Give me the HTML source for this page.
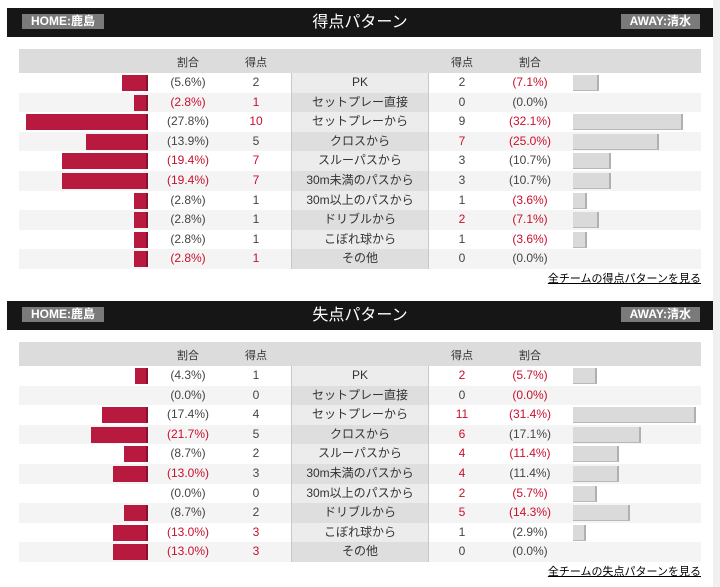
<!DOCTYPE html>
<html><head><meta charset="utf-8"><style>
body{margin:0;width:720px;height:587px;background:#fff;font-family:"Liberation Sans","Noto Sans CJK JP",sans-serif;position:relative;overflow:hidden}
.side{position:absolute;left:713px;top:0;width:7px;height:587px;background:#f0f0f0}
.hdr{position:absolute;left:7px;width:706px;height:29px;background:#161616}
.tag{position:absolute;top:6px;height:15px;background:#7a7a7a;color:#fff;font-weight:bold;font-size:12px;line-height:15px;padding:0 9px}
.ttl{position:absolute;left:0;right:0;top:0;line-height:29px;text-align:center;color:#fff;font-size:16px}
.tbl{position:absolute;left:19px;width:682px}
.th{height:24px;background:#dcdcdc;position:relative;font-size:11px;color:#333}
.th span,.row span{position:absolute;transform:translateX(-50%);white-space:nowrap}
.th span{top:5px}
.row{height:19.6px;position:relative;font-size:12px;color:#444}
.row span{top:2px}
.lab{position:absolute;left:272px;width:136px;height:100%;border-left:1px solid #c8c8c8;border-right:1px solid #c8c8c8;text-align:center;line-height:19.6px;color:#333}
.hb{position:absolute;top:2px;height:16px;background:#b8193f;border-right:2px solid #8a1030}
.ab{position:absolute;left:554px;top:2px;height:15px;background:#dadada;border-right:2px solid #b0b0b0;border-bottom:1px solid #b8b8b8}
.r{color:#c8102e}
.link{position:absolute;right:19px;font-size:11px;color:#000;text-decoration:underline}
</style></head><body>
<div class="side"></div>
<div id="root"></div>
<script>
const cats=["PK","セットプレー直接","セットプレーから","クロスから","スルーパスから","30m未満のパスから","30m以上のパスから","ドリブルから","こぼれ球から","その他"];
const homeFor=[2,1,10,5,7,7,1,1,1,1];
const homeForPct=["5.6","2.8","27.8","13.9","19.4","19.4","2.8","2.8","2.8","2.8"];
const homeForPctRed=[0,1,0,0,1,1,0,0,0,1];
const homeForValRed=[0,1,1,0,1,1,0,0,0,1];
const awayFor=[2,0,9,7,3,3,1,2,1,0];
const awayForPct=["7.1","0.0","32.1","25.0","10.7","10.7","3.6","7.1","3.6","0.0"];
const awayForPctRed=[1,0,1,1,0,0,1,1,1,0];
const awayForValRed=[0,0,0,1,0,0,0,1,0,0];
const homeAg=[1,0,4,5,2,3,0,2,3,3];
const homeAgPct=["4.3","0.0","17.4","21.7","8.7","13.0","0.0","8.7","13.0","13.0"];
const homeAgPctRed=[0,0,0,1,0,1,0,0,1,1];
const homeAgValRed=[0,0,0,0,0,0,0,0,1,1];
const awayAg=[2,0,11,6,4,4,2,5,1,0];
const awayAgPct=["5.7","0.0","31.4","17.1","11.4","11.4","5.7","14.3","2.9","0.0"];
const awayAgPctRed=[1,1,1,0,1,0,1,1,0,0];
const awayAgValRed=[1,0,1,1,1,1,1,1,0,0];
const root=document.getElementById('root');
function section(top,title,link,hv,hp,hpr,hvr,av,ap,apr,avr,scale,nm){
  const h=document.createElement('div');h.className='hdr';h.style.top=top+'px';
  
  
  h.innerHTML='<div class="ttl">'+title+'</div><div class="tag" style="left:15px">HOME:鹿島</div><div class="tag" style="right:13px">AWAY:清水</div>';
  root.appendChild(h);
  const t=document.createElement('div');t.className='tbl';t.style.top=(top+41)+'px';
  
  
  let s='<div class="th"><span style="left:169px">割合</span><span style="left:237px">得点</span><span style="left:443px">得点</span><span style="left:511px">割合</span></div>';
  cats.forEach((c,i)=>{
    const bg=i%2?'#f4f4f4':'#fff', lb=i%2?'#dedede':'#ececec';
    const hw=hv[i]*scale, aw=av[i]*scale;
    s+='<div class="row" style="background:'+bg+'">'+
      (hw?'<div class="hb" style="left:'+(127-hw)+'px;width:'+hw+'px"></div>':'')+
      '<span class="'+(hpr[i]?'r':'')+'" style="left:169px">('+hp[i]+'%)</span>'+
      '<span class="'+(hvr[i]?'r':'')+'" style="left:237px">'+hv[i]+'</span>'+
      '<div class="lab" style="background:'+lb+'">'+c+'</div>'+
      '<span class="'+(avr[i]?'r':'')+'" style="left:443px">'+av[i]+'</span>'+
      '<span class="'+(apr[i]?'r':'')+'" style="left:511px">('+ap[i]+'%)</span>'+
      (aw?'<div class="ab" style="width:'+aw+'px"></div>':'')+
      '</div>';
  });
  t.innerHTML=s;root.appendChild(t);
  const a=document.createElement('a');a.className='link';a.style.top=(top+262)+'px';a.textContent=link;
  
  
  root.appendChild(a);
}
section(8,'得点パターン','全チームの得点パターンを見る',homeFor,homeForPct,homeForPctRed,homeForValRed,awayFor,awayForPct,awayForPctRed,awayForValRed,12,'scoring');
section(301,'失点パターン','全チームの失点パターンを見る',homeAg,homeAgPct,homeAgPctRed,homeAgValRed,awayAg,awayAgPct,awayAgPctRed,awayAgValRed,11,'conceding');
</script>
</body></html>
